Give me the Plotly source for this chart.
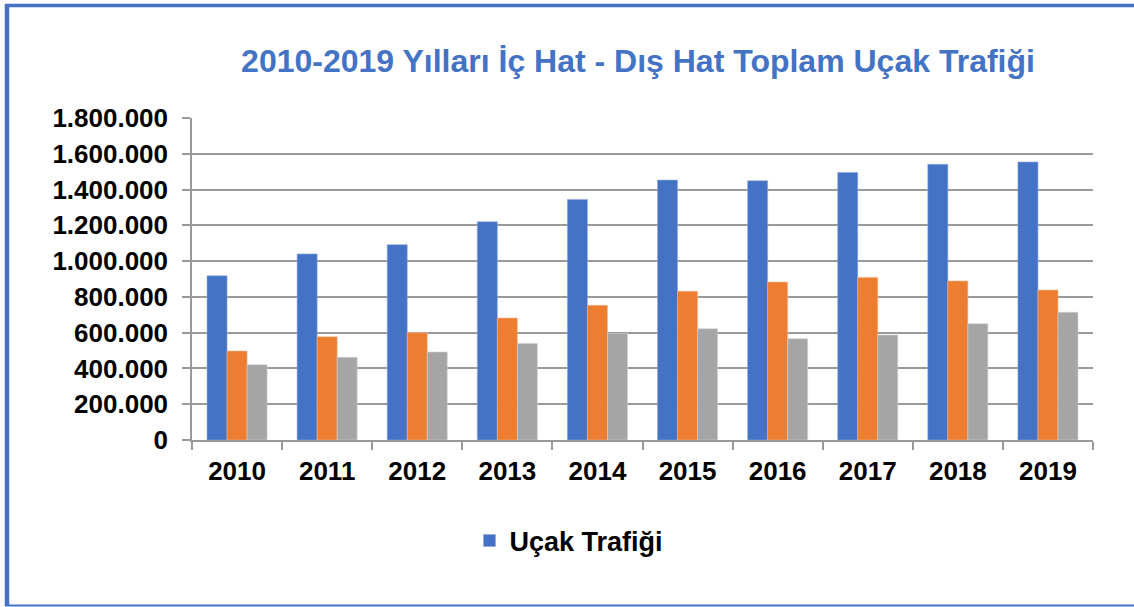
import plotly.graph_objects as go

years = ["2010", "2011", "2012", "2013", "2014", "2015", "2016", "2017", "2018", "2019"]
total_traffic = [918000, 1040000, 1092000, 1220000, 1345000, 1453000, 1449000, 1496000, 1541000, 1554000]
series_b = [497000, 577000, 600000, 682000, 753000, 831000, 883000, 909000, 889000, 838000]
series_c = [421000, 462000, 492000, 540000, 596000, 622000, 566000, 587000, 650000, 714000]

title_text = "2010-2019 Yılları İç Hat - Dış Hat Toplam Uçak Trafiği"
legend_name = "Uçak Trafiği"

W, H = 1134, 607
L, R, T, B = 192, 41, 118, 167
pw, ph = W - L - R, H - T - B

def px_x(p):
    return (p - L) / pw

def px_y(p):
    return (H - B - p) / ph

FONT = "Liberation Sans, Arial, sans-serif"
GRID = "#9a9a9a"

fig = go.Figure()
fig.add_trace(go.Bar(x=years, y=total_traffic, name=legend_name,
                     marker=dict(color="#4472C4", line=dict(color="#8eaadc", width=0.6))))
fig.add_trace(go.Bar(x=years, y=series_b, name="İç Hat", showlegend=False,
                     marker=dict(color="#ED7D31", line=dict(color="#f5b68c", width=0.6))))
fig.add_trace(go.Bar(x=years, y=series_c, name="Dış Hat", showlegend=False,
                     marker=dict(color="#A5A5A5", line=dict(color="#d2d2d2", width=0.6))))

fig.update_layout(
    width=W, height=H,
    margin=dict(l=L, r=R, t=T, b=B),
    paper_bgcolor="white", plot_bgcolor="white",
    separators=",.",
    barmode="group", bargap=1/3, bargroupgap=0,
    title=dict(text=title_text, x=638 / W, xref="container", xanchor="center",
               y=1 - 61 / H, yref="container", yanchor="middle",
               font=dict(family=FONT, size=32, color="#4472C4", weight="bold")),
    showlegend=True,
    legend=dict(orientation="h", x=px_x(569), xanchor="center", y=px_y(541), yanchor="middle",
                font=dict(family=FONT, size=27, color="black", weight="bold"),
                bgcolor="rgba(0,0,0,0)"),
    font=dict(family=FONT, color="black"),
)

fig.update_yaxes(range=[0, 1800000], dtick=200000, tickformat=",d",
                 showgrid=True, gridcolor=GRID, gridwidth=1.5,
                 showline=True, linecolor=GRID, linewidth=1.5,
                 ticks="outside", ticklen=8, tickcolor=GRID, tickwidth=1.5,
                 ticklabelstandoff=9, zeroline=False,
                 tickfont=dict(family=FONT, size=26, color="black", weight="bold"))
fig.update_xaxes(type="category", tickson="boundaries", showgrid=False,
                 showline=True, linecolor=GRID, linewidth=1.5,
                 ticks="outside", ticklen=8, tickcolor=GRID, tickwidth=1.5,
                 ticklabelstandoff=7,
                 tickfont=dict(family=FONT, size=26, color="black", weight="bold"))

# outer chart border (blue frame on top, left, bottom)
fig.add_shape(type="line", xref="paper", yref="paper", x0=px_x(5), x1=px_x(W + 5),
              y0=px_y(5.5), y1=px_y(5.5), line=dict(color="#4472C4", width=3.5))
fig.add_shape(type="line", xref="paper", yref="paper", x0=px_x(7), x1=px_x(7),
              y0=px_y(4), y1=px_y(606), line=dict(color="#4472C4", width=4.5))
fig.add_shape(type="line", xref="paper", yref="paper", x0=px_x(5), x1=px_x(W + 5),
              y0=px_y(605.5), y1=px_y(605.5), line=dict(color="#4472C4", width=2))

fig.write_html("out.html", config={"displayModeBar": False},
               post_script="document.body.style.margin='0';document.body.style.overflow='hidden';")
